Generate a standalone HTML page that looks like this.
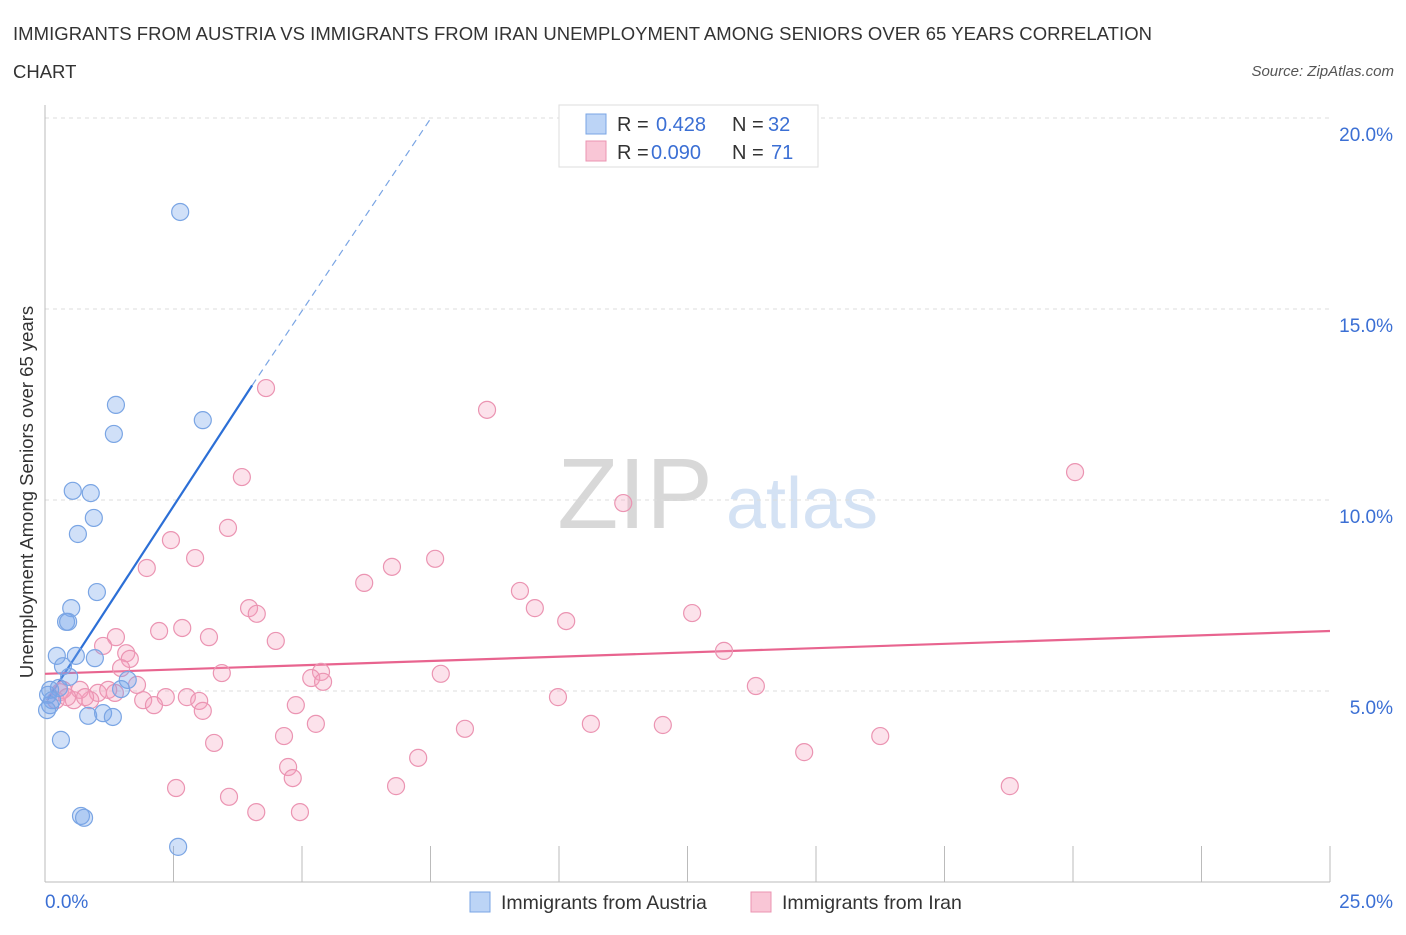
<!DOCTYPE html>
<html><head><meta charset="utf-8"><style>
body{margin:0;background:#fff;font-family:"Liberation Sans",sans-serif;}
svg text{font-family:"Liberation Sans",sans-serif;}
</style></head><body>
<svg id="chart" width="1406" height="930" viewBox="0 0 1406 930">
<text x="13" y="40" font-size="18.5" fill="#333" textLength="1139">IMMIGRANTS FROM AUSTRIA VS IMMIGRANTS FROM IRAN UNEMPLOYMENT AMONG SENIORS OVER 65 YEARS CORRELATION</text>
<text x="13" y="78" font-size="18.5" fill="#333">CHART</text>
<text x="1394" y="76" font-size="15" fill="#555" font-style="italic" text-anchor="end">Source: ZipAtlas.com</text>
<text x="635" y="528" font-size="100" fill="#d8d8d8" font-family="Liberation Serif" text-anchor="middle">ZIP</text>
<text x="802" y="528" font-size="72" fill="#d4e2f4" text-anchor="middle">atlas</text>
<g id="grid"></g><g id="axes"></g><g id="trend"></g><g id="pts"></g>
<text x="33" y="492" font-size="18.5" fill="#333" text-anchor="middle" transform="rotate(-90 33 492)">Unemployment Among Seniors over 65 years</text>
<g>
<rect x="559" y="105" width="259" height="62" fill="#fff" stroke="#ddd"/>
<rect x="586" y="114" width="20" height="20" fill="#bcd4f6" stroke="#7aa5e4"/>
<text x="617" y="131" font-size="20" fill="#333">R = </text><text x="656" y="131" font-size="20" fill="#3b6fd4">0.428</text>
<text x="732" y="131" font-size="20" fill="#333">N = </text><text x="768" y="131" font-size="20" fill="#3b6fd4">32</text>
<rect x="586" y="141" width="20" height="20" fill="#f9c6d6" stroke="#eb94b2"/>
<text x="617" y="159" font-size="20" fill="#333">R = </text><text x="651" y="159" font-size="20" fill="#3b6fd4">0.090</text>
<text x="732" y="159" font-size="20" fill="#333">N = </text><text x="771" y="159" font-size="20" fill="#3b6fd4">71</text>
</g>
<g>
<rect x="470" y="892" width="20" height="20" fill="#bcd4f6" stroke="#7aa5e4"/>
<text x="501" y="909" font-size="19.5" fill="#333">Immigrants from Austria</text>
<rect x="751" y="892" width="20" height="20" fill="#f9c6d6" stroke="#eb94b2"/>
<text x="782" y="909" font-size="19.5" fill="#333">Immigrants from Iran</text>
</g>
</svg>
<script>
const austriaX=[2.63,1.38,3.07,1.34,0.54,0.89,0.95,0.64,1.01,0.51,0.41,0.45,0.23,0.60,0.97,0.35,0.47,1.61,1.48,0.27,0.10,0.06,0.14,0.10,0.84,1.13,1.32,0.31,0.70,0.76,2.59,0.04];
const austriaY=[17.54,12.49,12.09,11.73,10.24,10.18,9.53,9.11,7.59,7.17,6.81,6.81,5.92,5.92,5.86,5.65,5.37,5.29,5.05,5.08,5.03,4.90,4.76,4.63,4.35,4.42,4.32,3.72,1.73,1.68,0.92,4.50];
const iranX=[4.30,8.60,20.04,3.83,11.25,3.56,2.45,2.92,7.59,1.98,6.75,6.21,9.24,3.97,9.53,4.12,12.59,10.14,2.67,2.22,1.38,3.19,4.49,1.13,13.21,1.58,1.65,1.48,3.44,7.70,5.37,5.18,5.41,1.79,13.83,9.98,2.76,2.35,1.91,3.00,2.12,3.07,4.88,1.36,1.03,0.88,0.56,0.68,0.29,0.21,8.17,10.62,12.02,5.27,4.65,16.25,3.29,14.77,7.26,4.73,4.82,2.55,6.83,18.77,3.58,4.11,4.96,0.35,0.43,0.78,1.23];
const iranY=[12.93,12.36,10.73,10.60,9.92,9.27,8.95,8.48,8.46,8.22,8.25,7.83,7.62,7.17,7.17,7.02,7.04,6.83,6.65,6.57,6.41,6.41,6.31,6.18,6.05,5.99,5.84,5.60,5.47,5.45,5.50,5.34,5.24,5.16,5.13,4.84,4.84,4.84,4.76,4.74,4.63,4.48,4.63,4.95,4.95,4.76,4.76,5.03,4.97,4.76,4.01,4.14,4.11,4.14,3.82,3.82,3.64,3.40,3.25,3.01,2.72,2.46,2.51,2.51,2.23,1.83,1.83,5.03,4.84,4.84,5.03];
const austriaTrendX=[0.04,4.03,7.51];
const austriaTrendY=[4.76,13.0,20.0];
const iranTrendX=[0,25];
const iranTrendY=[5.45,6.57];
const yTicks=[5,10,15,20];
const yTickLabels=["5.0%","10.0%","15.0%","20.0%"];
const xTicks=[0,2.5,5,7.5,10,12.5,15,17.5,20,22.5,25];

const NS="http://www.w3.org/2000/svg";
const sx=v=>45+v/25*1285;
const sy=v=>882-v/5*191;
function mk(tag,attrs,parent){const e=document.createElementNS(NS,tag);for(const k in attrs)e.setAttribute(k,attrs[k]);document.getElementById(parent).appendChild(e);return e;}
yTicks.forEach((t,i)=>{
  const g=mk('line',{x1:45,x2:1330,y1:sy(t),y2:sy(t),stroke:'#ddd','stroke-dasharray':'4,4'},'grid');
  
  
  const l=mk('text',{x:1393,y:sy(t)+23,'font-size':19,fill:'#3b6fd4','text-anchor':'end'},'grid');
  l.textContent=yTickLabels[i];
  
  
});
const ax=mk('line',{x1:45,x2:45,y1:105,y2:882,stroke:'#bbb'},'axes');


const bx=mk('line',{x1:45,x2:1330,y1:882,y2:882,stroke:'#bbb'},'axes');


xTicks.forEach(t=>{
  const k=mk('line',{x1:sx(t),x2:sx(t),y1:846,y2:882,stroke:'#bbb'},'axes');
  
  
});
const x0=mk('text',{x:45,y:908,'font-size':19,fill:'#3b6fd4'},'axes');x0.textContent='0.0%';


const x1=mk('text',{x:1393,y:908,'font-size':19,fill:'#3b6fd4','text-anchor':'end'},'axes');x1.textContent='25.0%';



iranX.forEach((v,i)=>{
  const c=mk('circle',{cx:sx(v),cy:sy(iranY[i]),r:8.5,fill:'rgba(244,160,188,0.3)',stroke:'#eb94b2','stroke-width':1.2},'pts');
  
  
});
austriaX.forEach((v,i)=>{
  const c=mk('circle',{cx:sx(v),cy:sy(austriaY[i]),r:8.5,fill:'rgba(120,165,235,0.35)',stroke:'#7aa5e4','stroke-width':1.2},'pts');
  
  
});
const ta=mk('line',{x1:sx(austriaTrendX[0]),y1:sy(austriaTrendY[0]),x2:sx(austriaTrendX[1]),y2:sy(austriaTrendY[1]),stroke:'#2c6fd6','stroke-width':2.2},'trend');


const td=mk('line',{x1:sx(austriaTrendX[1]),y1:sy(austriaTrendY[1]),x2:sx(austriaTrendX[2]),y2:sy(austriaTrendY[2]),stroke:'#7aa5e4','stroke-width':1.2,'stroke-dasharray':'7,5'},'trend');


const ti=mk('line',{x1:sx(iranTrendX[0]),y1:sy(iranTrendY[0]),x2:sx(iranTrendX[1]),y2:sy(iranTrendY[1]),stroke:'#e8648f','stroke-width':2.2},'trend');


</script>
</body></html>
